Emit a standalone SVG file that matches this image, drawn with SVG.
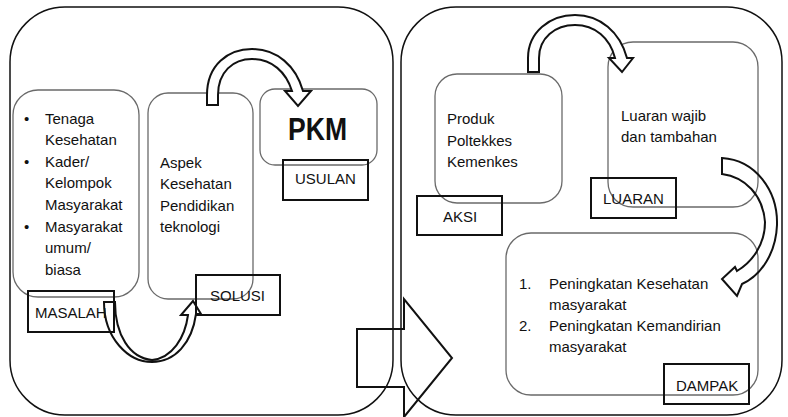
<svg xmlns="http://www.w3.org/2000/svg" width="788" height="417" viewBox="0 0 788 417">
<style>
text{font-family:"Liberation Sans",Arial,sans-serif;font-size:15px;fill:#111}
.outer{fill:none;stroke:#111;stroke-width:1.5}
.box{fill:#fff;stroke:#6a6a6a;stroke-width:1.3}
.lab{fill:none;stroke:#111;stroke-width:2}
.arr{fill:#fff;stroke:#111;stroke-width:2;stroke-linejoin:miter}
.arrn{fill:none;stroke:#111;stroke-width:2;stroke-linejoin:miter}
.big{fill:none;stroke:#111;stroke-width:2}
</style>
<rect width="788" height="417" fill="#fff"/>
<g id="panel-left"><rect class="outer" x="10" y="7" width="383" height="408" rx="55"/></g>
<g id="panel-right"><rect class="outer" x="401" y="7" width="381" height="408" rx="55"/></g>

<g id="masalah">
<rect class="box" x="13" y="90" width="126" height="207" rx="25"/>
<text x="24" y="124">•</text><text x="45" y="124">Tenaga</text>
<text x="45" y="145">Kesehatan</text>
<text x="24" y="167">•</text><text x="45" y="167">Kader/</text>
<text x="45" y="188">Kelompok</text>
<text x="45" y="210">Masyarakat</text>
<text x="24" y="232">•</text><text x="45" y="232">Masyarakat</text>
<text x="45" y="253">umum/</text>
<text x="45" y="275">biasa</text>
<rect class="lab" x="28" y="291" width="86" height="41"/>
<text x="35" y="318">MASALAH</text>
</g>

<g id="solusi">
<rect class="box" x="148" y="93" width="105" height="206" rx="20"/>
<text x="160" y="168">Aspek</text>
<text x="160" y="189">Kesehatan</text>
<text x="160" y="211">Pendidikan</text>
<text x="160" y="232">teknologi</text>
<rect class="lab" x="196" y="275" width="84" height="40"/>
<text x="210" y="301">SOLUSI</text>
</g>

<g id="usulan">
<rect class="box" x="260" y="89" width="117" height="76" rx="15"/>
<text x="288" y="140" style="font-size:31px;font-weight:bold" textLength="59" lengthAdjust="spacingAndGlyphs">PKM</text>
<rect class="lab" x="283" y="160" width="85" height="40"/>
<text x="295" y="184">USULAN</text>
</g>

<g id="aksi">
<rect class="box" x="435" y="74" width="127" height="129" rx="22"/>
<text x="447" y="124">Produk</text>
<text x="447" y="146">Poltekkes</text>
<text x="447" y="167">Kemenkes</text>
<rect class="lab" x="417" y="196" width="85" height="39"/>
<text x="443" y="222">AKSI</text>
</g>

<g id="luaran">
<rect class="box" x="608" y="42" width="150" height="165" rx="25"/>
<text x="621" y="121">Luaran wajib</text>
<text x="621" y="142">dan tambahan</text>
<rect class="lab" x="591" y="178" width="85" height="40"/>
<text x="603" y="204">LUARAN</text>
</g>

<g id="dampak">
<rect class="box" x="506" y="233" width="252" height="162" rx="25"/>
<text x="519" y="289">1.</text><text x="549" y="289">Peningkatan Kesehatan</text>
<text x="549" y="310">masyarakat</text>
<text x="519" y="331">2.</text><text x="549" y="331">Peningkatan Kemandirian</text>
<text x="549" y="352">masyarakat</text>
<rect class="lab" x="664" y="364" width="85" height="40"/>
<text x="676" y="391">DAMPAK</text>
</g>

<g id="connectors">
<path class="arr" d="M207,105 L207,95 C207,65 228,49 252,49 C277,49 296,66 303,91 L311,91 L298,106 L285,91 L292,91 C286,72 272,59 252,59 C233,59 218,72 218,95 L218,105 Z"/>
<path class="arrn" d="M104,302 L115,302 C115,335 130,358 152,360 C172,358 185,338 188,315 L181,315 L193,301 L201,314 L196,314 C192,343 175,362 152,362 C128,362 104,338 104,302 Z"/>
<path class="arr" d="M528,72 L528,58 C528,32 550,15 575,15 C600,15 620,32 627,58 L633,58 L622,72 L609,58 L615,58 C610,38 595,25 575,25 C555,25 539,38 539,58 L539,72 Z"/>
<path class="arrn" d="M722,158 C755,160 778,190 777,225 C776,252 762,275 742,284 L737,296 L722,279 L735,267 L737,271 C752,262 765,245 765,222 C763,195 745,177 722,174 Z"/>
<path class="big" d="M357,329 L404,329 L404,299 L452,358 L404,417 L404,387 L357,387 Z"/>
</g>
</svg>
